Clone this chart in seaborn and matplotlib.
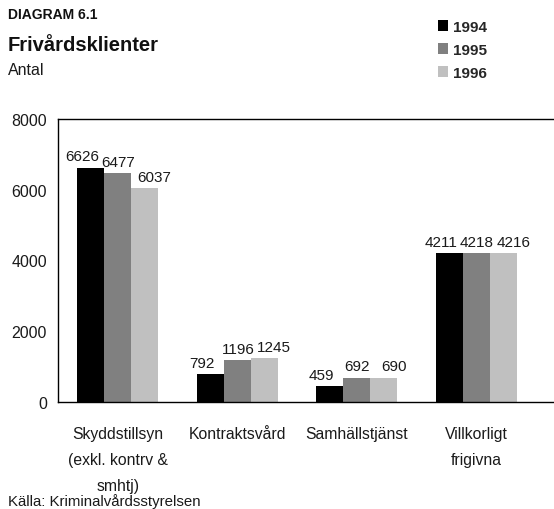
import numpy as np
import pandas as pd
import matplotlib
matplotlib.use('Agg')
import matplotlib.pyplot as plt
import seaborn as sns

# Data
categories = ['Skyddstillsyn\n(exkl. kontrv &\nsmhtj)', 'Kontraktsvård', 'Samhällstjänst', 'Villkorligt\nfrigivna']
years = ['1994', '1995', '1996']
v1994 = [6626, 792, 459, 4211]
v1995 = [6477, 1196, 692, 4218]
v1996 = [6037, 1245, 690, 4216]
yticks = [0, 2000, 4000, 6000, 8000]

COLORS = ['#000000', '#808080', '#c0c0c0']
TEXT = '#1a1a1a'

df = pd.DataFrame({
    'kategori': categories * 3,
    'ar': [y for y in years for _ in categories],
    'antal': v1994 + v1995 + v1996,
})

sns.set_theme(style='white')
plt.rcParams['font.family'] = ['Liberation Sans', 'DejaVu Sans']

fig = plt.figure(figsize=(5.54, 5.10), dpi=100)
ax = fig.add_axes([58 / 554, 1 - 403 / 510, 1 - 58 / 554, (403 - 120) / 510])

sns.barplot(data=df, x='kategori', y='antal', hue='ar', palette=COLORS,
            width=0.68, gap=0, saturation=1, linewidth=0, ax=ax, legend=True)

# value labels, spread a little sideways like the original
x_shift = [-6, 0.5, 7]
for i, cont in enumerate(ax.containers):
    for rect in cont:
        h = rect.get_height()
        ax.annotate(f'{h:.0f}', xy=(rect.get_x() + rect.get_width() / 2, h),
                    xytext=(x_shift[i], 3), textcoords='offset points',
                    ha='center', va='bottom', fontsize=11, color=TEXT,
                    annotation_clip=False)

ax.set_ylim(0, 8000)
ax.set_xlim(-0.5, 3.65)
ax.set_yticks(yticks)
ax.set_yticklabels([str(t) for t in yticks], fontsize=11.5, color=TEXT)
ax.tick_params(axis='y', length=0, pad=8)
ax.tick_params(axis='x', which='major', length=0, pad=17, labelsize=11.3, labelcolor=TEXT)
ax.set_xticks([0.5, 1.5, 2.5], minor=True)
ax.tick_params(axis='x', which='minor', length=8, direction='inout', width=0.8, color='black')
for lab in ax.get_xticklabels():
    lab.set_linespacing(1.93)
    lab.set_verticalalignment('top')
ax.set_xlabel('')
ax.set_ylabel('')
for s in ['left', 'bottom', 'top']:
    ax.spines[s].set_color('black')
    ax.spines[s].set_linewidth(1.0)
ax.spines['right'].set_visible(False)

# Legend in upper right
handles, labels = ax.get_legend_handles_labels()
ax.get_legend().remove()
fig.legend(handles, labels, loc='upper left', bbox_to_anchor=(424 / 554, 1 - 7 / 510),
           frameon=False, handlelength=0.7, handleheight=0.7, handletextpad=0.3,
           labelspacing=0.6, prop={'weight': 'bold', 'size': 11})

# Titles
fig.text(8 / 554, 1 - 8 / 510, 'DIAGRAM 6.1', fontsize=10, fontweight='bold', va='top', color='#111111')
fig.text(8 / 554, 1 - 36 / 510, 'Frivårdsklienter', fontsize=14.5, fontweight='bold', va='top', color='#111111')
fig.text(8 / 554, 1 - 63 / 510, 'Antal', fontsize=11.5, va='top', color=TEXT)
fig.text(8 / 554, 1 - 494 / 510, 'Källa: Kriminalvårdsstyrelsen', fontsize=10.8, va='top', color=TEXT)

fig.savefig('out.png', dpi=100)
plt.close()
